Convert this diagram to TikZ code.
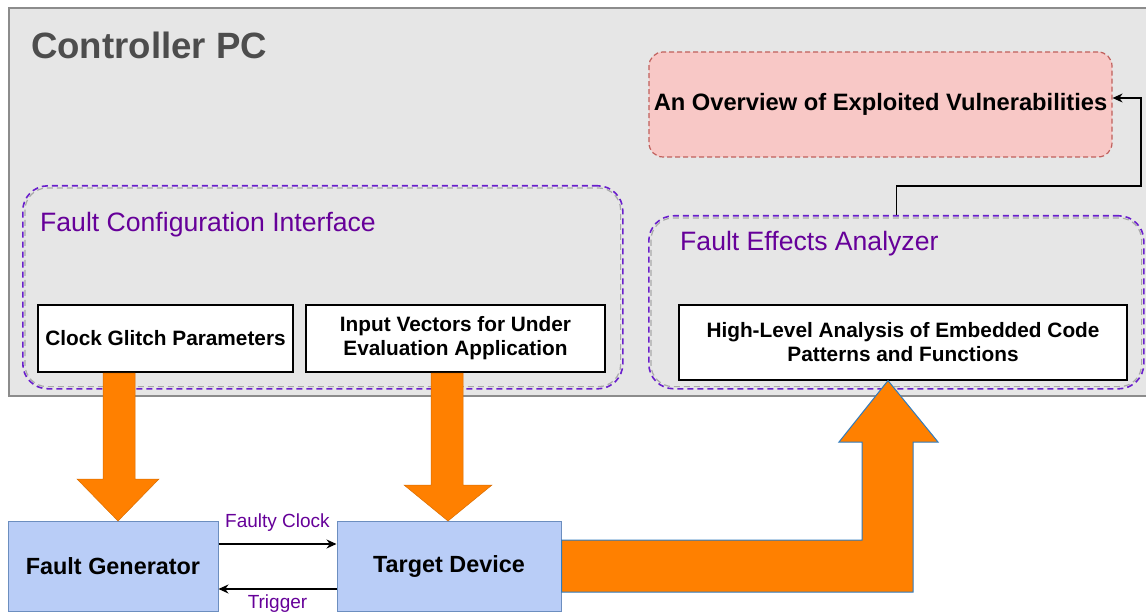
\documentclass[tikz,border=0pt]{standalone}
\usepackage{fontspec}
\setmainfont{Liberation Sans}
\usetikzlibrary{arrows.meta}
\definecolor{pcfill}{HTML}{E6E6E6}
\definecolor{pcline}{HTML}{8C8C8C}
\definecolor{titlegray}{HTML}{4D4D4D}
\definecolor{purptext}{HTML}{660099}
\definecolor{purpline}{HTML}{6A1FCC}
\definecolor{redfill}{HTML}{F8C8C6}
\definecolor{redline}{HTML}{C0605C}
\definecolor{bluefill}{HTML}{B9CDF7}
\definecolor{blueline}{HTML}{6C8EBF}
\definecolor{orangeA}{RGB}{255,128,0}
\definecolor{arrowline}{HTML}{2E7BBF}
\tikzset{
  pcbox/.style={draw=pcline, line width=1.6pt, fill=pcfill, inner sep=0pt},
  groupbox/.style={draw=purpline, dashed, dash pattern=on 6pt off 4pt, line width=1.6pt, rounded corners=25pt, inner sep=0pt},
  innerdash/.style={draw=pcline!75, dashed, dash pattern=on 6pt off 4pt, line width=1.2pt, rounded corners=22pt},
  wbox/.style={draw=black, line width=1.1pt, fill=white, inner sep=0pt, align=center,
    font=\fontsize{20.8}{24}\selectfont\bfseries},
  redbox/.style={draw=redline, dashed, dash pattern=on 5pt off 3pt, line width=1.2pt, fill=redfill,
    rounded corners=14pt, inner sep=0pt, font=\fontsize{23.7}{27}\selectfont\bfseries},
  bbox/.style={draw=blueline, line width=1pt, fill=bluefill, inner sep=0pt,
    font=\fontsize{23.4}{27}\selectfont\bfseries},
  grouplabel/.style={anchor=base west, inner sep=0pt, text=purptext, font=\fontsize{26.6}{30}\selectfont},
  linklabel/.style={inner sep=0pt, text=purptext, font=\fontsize{19}{22}\selectfont},
  conn/.style={draw=black, line width=1.2pt, -{Stealth[length=10pt,width=9pt]}},
  fatarrow/.style={fill=orangeA, draw=orangeA!85!black, line width=0.5pt},
  bigarrow/.style={fill=orangeA, draw=arrowline, line width=1pt, line join=miter}
}
\begin{document}
\begin{tikzpicture}[x=1pt,y=-1pt]
\useasboundingbox (0,0) rectangle (1146,612);
\fill[white] (0,0) rectangle (1146,612);

% Controller PC
\node[pcbox, minimum width=1150pt, minimum height=388pt, anchor=north west] (pc) at (8,7) {};
\node[anchor=base west, inner sep=0pt, text=titlegray, font=\fontsize{36.6}{40}\selectfont\bfseries] (title) at (31,59) {Controller PC};

% Red overview box
\node[redbox, minimum width=463pt, minimum height=105pt] (red) at (880.5,104.5) {An Overview of Exploited Vulnerabilities};

% Fault Configuration Interface group
\node[groupbox, minimum width=600pt, minimum height=203pt, anchor=north west] (fci) at (22,185) {};
\draw[innerdash]
  ([shift={(3pt,-3pt)}]fci.north west) rectangle ([shift={(-3pt,3pt)}]fci.south east);
\node[grouplabel] (fcilabel) at (40,231.5) {Fault Configuration Interface};

% Fault Effects Analyzer group
\node[groupbox, minimum width=495pt, minimum height=173pt, anchor=north west] (fea) at (648,215) {};
\draw[innerdash]
  ([shift={(3pt,-3pt)}]fea.north west) rectangle ([shift={(-3pt,3pt)}]fea.south east);
\node[grouplabel] (fealabel) at (680,250.5) {Fault Effects Analyzer};

% Inner white boxes
\node[wbox, minimum width=255pt, minimum height=67pt] (cgp) at (165.5,338.5) {Clock Glitch Parameters};
\node[wbox, minimum width=299pt, minimum height=67pt] (ivec) at (455.5,338.5) {Input Vectors for Under\\Evaluation Application};
\node[wbox, minimum width=448pt, minimum height=75pt] (hla) at (903,342.5) {High-Level Analysis of Embedded Code\\Patterns and Functions};

% Bottom blue boxes
\node[bbox, minimum width=210pt, minimum height=90pt] (fg) at (113,566.5) {Fault Generator};
\node[bbox, minimum width=224pt, minimum height=90pt] (td) at (449,566.5) {Target Device};

% connector fea -> red
\coordinate (bend) at (1141,186);
\draw[conn] (fea.north) |- (bend) |- ([yshift=6.5pt]red.east);

% Faulty clock / trigger
\draw[conn] ([yshift=22.5pt]fg.east) -- ([yshift=22.5pt]td.west) node[linklabel, midway, yshift=21pt] (fclabel) {Faulty Clock};
\draw[conn] ([yshift=-22.5pt]td.west) -- ([yshift=-22.5pt]fg.east) node[linklabel, midway, yshift=-15pt] (trlabel) {Trigger};

% Orange fat arrows
\draw[fatarrow] (103,373) -- (135,373) -- (135,479) -- (159,479) -- (118,521) -- (77,479) -- (103,479) -- cycle;
\draw[fatarrow] (431,373) -- (463,373) -- (463,485) -- (492,485) -- (448,521) -- (404,485) -- (431,485) -- cycle;

% Big L arrow from Target Device to High-Level analysis
\draw[bigarrow] (td.east |- 0,540) -- (862,540) -- (862,442) -- (839,442) -- (hla.south -| 888,0) -- (938,442) -- (913,442) -- (913,592) -- (td.east |- 0,592) -- cycle;
\end{tikzpicture}
\end{document}
